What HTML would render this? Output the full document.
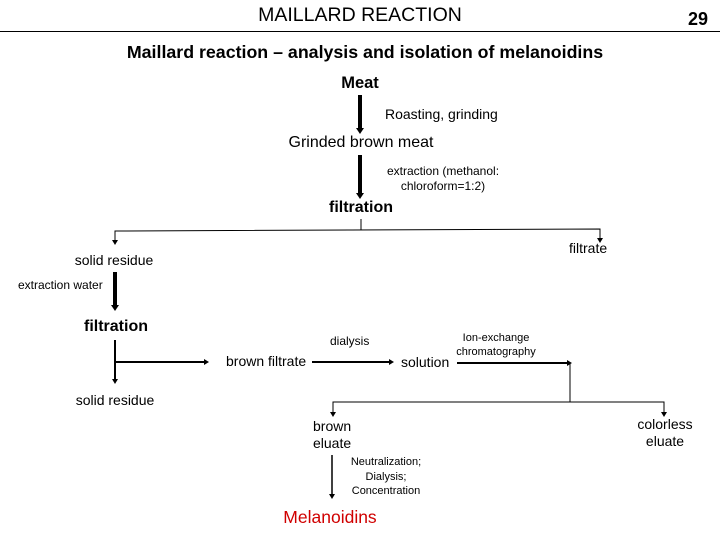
<!DOCTYPE html>
<html><head><style>body{margin:0;background:#fff}svg{display:block}text{font-family:"Liberation Sans",Arial,sans-serif;fill:#000}</style></head>
<body>
<svg width="720" height="540" viewBox="0 0 720 540" xmlns="http://www.w3.org/2000/svg">
<text x="360" y="21" font-size="19.5" text-anchor="middle">MAILLARD REACTION</text>
<text x="708" y="25" font-size="18" font-weight="bold" text-anchor="end">29</text>
<line x1="0" y1="31.5" x2="720" y2="31.5" stroke="#000" stroke-width="1"/>
<text x="365" y="58" font-size="17.8" font-weight="bold" text-anchor="middle">Maillard reaction – analysis and isolation of melanoidins</text>
<text x="360" y="88" font-size="16.5" font-weight="bold" text-anchor="middle">Meat</text>
<line x1="360" y1="95" x2="360" y2="129" stroke="#000" stroke-width="4"/>
<path d="M356,128 L364,128 L360,134 Z"/>
<text x="385" y="119" font-size="14">Roasting, grinding</text>
<text x="361" y="147" font-size="16" text-anchor="middle">Grinded brown meat</text>
<line x1="360" y1="155" x2="360" y2="194" stroke="#000" stroke-width="4"/>
<path d="M356,193 L364,193 L360,199 Z"/>
<text x="443" y="175" font-size="12" text-anchor="middle">extraction (methanol:</text>
<text x="443" y="190" font-size="12" text-anchor="middle">chloroform=1:2)</text>
<text x="361" y="212" font-size="16" font-weight="bold" text-anchor="middle">filtration</text>
<g stroke="#000" fill="none" stroke-width="1">
<line x1="361" y1="219" x2="361" y2="230"/>
<polyline points="115,241 115,231 600,229 600,239"/>
</g>
<path d="M112,240 L118,240 L115,245 Z M597,238 L603,238 L600,243 Z"/>
<text x="569" y="253" font-size="14">filtrate</text>
<text x="114" y="265" font-size="14" text-anchor="middle">solid residue</text>
<line x1="115" y1="272" x2="115" y2="306" stroke="#000" stroke-width="4"/>
<path d="M111,305 L119,305 L115,311 Z"/>
<text x="18" y="289" font-size="12">extraction water</text>
<text x="116" y="331" font-size="16" font-weight="bold" text-anchor="middle">filtration</text>
<g stroke="#000" fill="none" stroke-width="2">
<line x1="115" y1="340" x2="115" y2="380"/>
<line x1="116" y1="362" x2="205" y2="362"/>
<line x1="312" y1="362" x2="390" y2="362"/>
<line x1="457" y1="363" x2="568" y2="363"/>
</g>
<path d="M112,379 L118,379 L115,384 Z M204,359 L204,365 L209,362 Z M389,359 L389,365 L394,362 Z M567,360 L567,366 L572,363 Z"/>
<text x="226" y="366" font-size="14">brown filtrate</text>
<text x="330" y="345" font-size="12">dialysis</text>
<text x="401" y="367" font-size="14">solution</text>
<text x="496" y="341" font-size="11" text-anchor="middle">Ion-exchange</text>
<text x="496" y="355" font-size="11" text-anchor="middle">chromatography</text>
<g stroke="#000" fill="none" stroke-width="1">
<line x1="570" y1="363" x2="570" y2="402"/>
<polyline points="333,413 333,402 664,402 664,413"/>
</g>
<path d="M330,412 L336,412 L333,417 Z M661,412 L667,412 L664,417 Z"/>
<text x="115" y="405" font-size="14" text-anchor="middle">solid residue</text>
<text x="313" y="431" font-size="14">brown</text>
<text x="313" y="448" font-size="14">eluate</text>
<text x="665" y="429" font-size="14" text-anchor="middle">colorless</text>
<text x="665" y="446" font-size="14" text-anchor="middle">eluate</text>
<line x1="332" y1="455" x2="332" y2="495" stroke="#000" stroke-width="1.5"/>
<path d="M329,494 L335,494 L332,499 Z"/>
<text x="386" y="465" font-size="11" text-anchor="middle">Neutralization;</text>
<text x="386" y="480" font-size="11" text-anchor="middle">Dialysis;</text>
<text x="386" y="494" font-size="11" text-anchor="middle">Concentration</text>
<text x="330" y="523" font-size="17.5" text-anchor="middle" style="fill:#d00000">Melanoidins</text>
</svg>
</body></html>
